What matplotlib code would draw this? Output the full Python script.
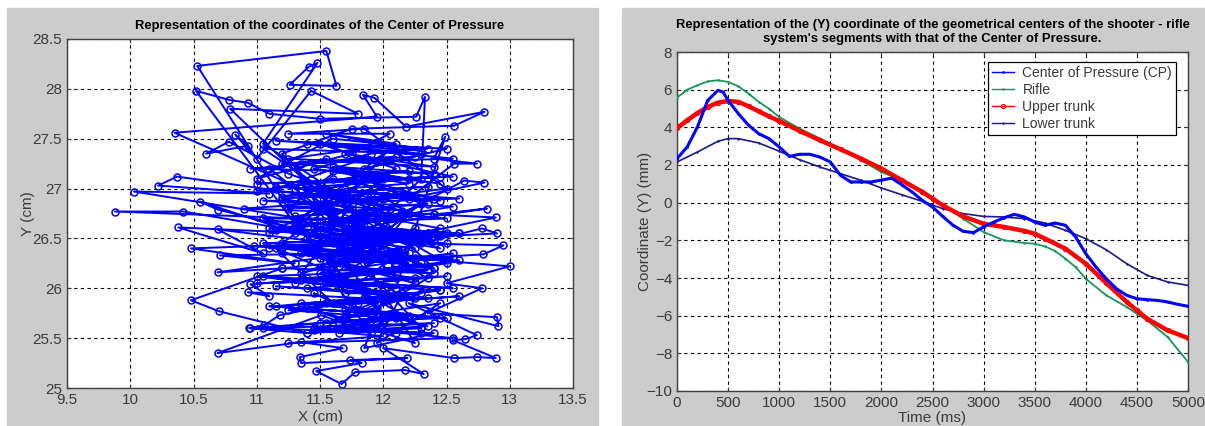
"""Center of Pressure trajectory and Y coordinate of the shooter - rifle segments."""

import matplotlib

matplotlib.use("Agg")

import matplotlib.pyplot as plt
from matplotlib.patches import Rectangle

plt.rcParams["font.family"] = ["Liberation Sans", "DejaVu Sans"]

# ---- left panel: CoP path (cm) ----
cop_x = [
    11.70, 11.35, 11.90, 12.20, 11.55, 11.10, 11.80, 12.35, 11.95, 11.45,
    10.53, 11.55, 11.63, 11.26, 11.41, 11.48, 11.05, 11.70, 12.05, 11.30,
    10.52, 10.78, 10.93, 11.10, 11.50, 12.26, 12.33, 12.30, 11.60, 12.15,
    10.35, 11.95, 11.84, 11.93, 12.18, 12.80, 12.56, 11.75, 11.20, 11.65,
    10.79, 11.80, 11.43, 11.00, 10.83, 10.93, 10.60, 10.78, 11.25, 11.90,
    10.37, 10.22, 11.10, 10.03, 11.35, 9.88, 10.42, 11.20, 10.55, 10.69,
    11.45, 10.38, 11.05, 10.69, 11.60, 10.48, 11.30, 10.71, 11.75, 10.69,
    11.20, 10.48, 10.70, 11.40, 10.94, 11.06, 11.18, 11.85, 10.93, 11.10,
    10.95, 11.55, 12.10, 12.49, 12.40, 12.74, 12.56, 12.20, 12.80, 12.64,
    12.00, 12.82, 12.40, 12.89, 12.10, 12.90, 12.78, 12.30, 12.95, 12.79,
    12.25, 13.00, 12.50, 12.78, 12.35, 12.90, 12.91, 12.20, 12.74, 12.65,
    12.55, 12.89, 12.74, 12.56, 12.00, 12.32, 12.17, 11.78, 11.67, 11.47,
    11.83, 11.74, 12.19, 11.35, 11.34, 11.68, 11.35, 10.69, 11.51, 11.90,
    11.62, 12.05, 11.48, 11.88, 11.20, 11.70, 12.15, 11.55, 11.95, 11.35,
    12.25, 11.80, 11.45, 12.00, 11.65, 12.30, 11.90, 11.30, 11.75, 12.10,
    11.50, 11.85, 11.15, 11.60, 12.40, 11.95, 11.40, 12.20, 11.70, 11.05,
    11.85, 12.45, 11.55, 12.00, 11.25, 11.65, 12.30, 11.90, 11.35, 11.75,
    12.05, 11.50, 12.35, 11.80, 11.15, 11.60, 12.15, 11.95, 12.45, 11.70,
    12.10, 11.40, 12.25, 11.85, 12.55, 11.50, 12.00, 11.30, 11.70, 12.20,
    11.45, 11.90, 12.35, 11.60, 11.00, 11.75, 12.05, 11.25, 11.85, 12.50,
    11.55, 11.10, 11.95, 12.40, 11.65, 12.60, 11.35, 11.80, 12.15, 11.50,
    12.05, 11.40, 11.75, 12.25, 11.60, 12.45, 11.20, 11.90, 12.10, 11.70,
    12.30, 11.55, 12.00, 11.85, 12.40, 11.45, 12.20, 11.65, 12.50, 11.75,
    11.05, 12.30, 11.40, 12.55, 11.20, 12.10, 10.95, 12.40, 11.60, 12.20,
    11.00, 12.45, 11.30, 12.05, 11.15, 12.60, 11.50, 12.25, 10.90, 11.95,
    11.25, 12.50, 11.45, 12.15, 11.10, 12.35, 11.70, 12.00, 11.05, 12.45,
    11.35, 12.20, 10.98, 12.55, 11.55, 12.10, 11.20, 12.40, 11.65, 12.25,
    11.00, 12.50, 11.40, 12.05, 11.15, 12.35, 11.80, 12.60, 11.30, 11.95,
    11.10, 12.45, 11.50, 12.20, 10.95, 12.30, 11.60, 12.55, 11.25, 12.00,
    11.45, 12.40, 11.05, 12.15, 11.70, 12.50, 11.35, 12.25, 11.15, 12.45,
    11.55, 12.05, 11.00, 12.35, 11.40, 12.60, 11.20, 12.10, 11.65, 12.30,
    11.10, 12.50, 11.45, 12.20, 11.30, 12.40, 11.75, 12.55, 11.05, 12.15,
    11.50, 12.35, 11.20, 12.00, 11.60, 12.45, 11.35, 12.25, 11.85, 12.50,
    11.15, 12.30, 11.55, 12.10, 11.25, 12.40, 11.70, 12.55, 11.40, 12.20,
    11.00, 12.45, 11.50, 12.05, 11.30, 12.35, 11.80, 12.60, 11.10, 12.25,
    11.45, 12.15, 11.65, 12.50, 11.20, 12.40, 11.90, 12.30, 11.35, 12.55,
    11.05, 12.20, 11.55, 12.45, 11.25, 12.10, 11.75, 12.35, 11.40, 12.00,
    11.60, 12.50, 11.15, 12.25, 11.85, 12.40, 11.30, 12.15, 11.70, 12.05,
]
cop_y = [
    26.60, 27.05, 26.30, 26.75, 27.30, 27.20, 26.50, 26.10, 25.80, 26.40,
    28.23, 28.38, 28.03, 28.04, 28.22, 28.26, 27.45, 26.90, 27.40, 26.65,
    27.98, 27.89, 27.86, 27.75, 27.70, 27.72, 27.92, 27.10, 26.20, 26.55,
    27.56, 27.72, 27.94, 27.91, 27.62, 27.77, 27.63, 27.60, 27.35, 26.75,
    27.80, 27.75, 27.98, 27.30, 27.54, 27.43, 27.35, 27.47, 27.15, 26.85,
    27.12, 27.03, 26.95, 26.97, 26.70, 26.77, 26.77, 26.60, 26.87, 26.79,
    26.55, 26.61, 26.35, 26.59, 26.45, 26.40, 26.25, 26.33, 26.35, 26.16,
    26.20, 25.88, 25.77, 25.55, 25.60, 25.63, 25.73, 25.90, 25.96, 25.92,
    26.04, 26.10, 26.00, 27.52, 27.30, 27.25, 27.25, 26.90, 27.06, 27.08,
    26.65, 26.80, 26.74, 26.71, 26.50, 26.55, 26.60, 26.45, 26.43, 26.34,
    26.30, 26.22, 26.05, 26.00, 25.75, 25.71, 25.62, 25.85, 25.53, 25.49,
    25.48, 25.30, 25.31, 25.30, 25.40, 25.14, 25.18, 25.16, 25.04, 25.17,
    25.25, 25.28, 25.30, 25.25, 25.31, 25.40, 25.46, 25.35, 25.73, 25.55,
    26.05, 26.35, 26.80, 27.10, 26.45, 26.25, 26.70, 26.95, 26.60, 26.35,
    26.05, 25.75, 25.95, 25.65, 25.55, 25.60, 26.15, 26.05, 26.85, 27.20,
    27.45, 27.30, 27.00, 27.10, 26.90, 27.05, 26.50, 26.25, 26.40, 26.70,
    26.70, 26.40, 26.60, 26.90, 26.80, 27.20, 26.85, 26.45, 26.90, 26.65,
    26.15, 26.30, 26.55, 26.05, 26.40, 25.85, 25.95, 25.45, 25.85, 25.70,
    25.55, 25.80, 25.45, 26.25, 26.35, 26.15, 26.50, 26.60, 27.00, 27.05,
    27.20, 27.35, 27.40, 27.50, 27.10, 27.35, 27.55, 27.55, 27.60, 27.00,
    26.85, 26.55, 26.75, 26.20, 26.50, 26.55, 26.15, 26.35, 26.35, 26.65,
    26.80, 27.00, 26.20, 26.60, 26.35, 26.60, 26.90, 26.95, 26.10, 25.95,
    25.95, 25.65, 25.90, 25.40, 25.55, 25.60, 25.70, 26.10, 26.25, 26.80,
    27.40, 27.35, 27.45, 27.30, 27.25, 27.32, 27.20, 27.15, 27.22, 27.10,
    27.05, 27.12, 27.00, 26.95, 27.02, 26.90, 26.85, 26.92, 26.80, 26.75,
    26.82, 26.70, 26.65, 26.72, 26.60, 26.55, 26.62, 26.50, 26.45, 26.52,
    26.40, 26.35, 26.42, 26.30, 26.25, 26.32, 26.20, 26.15, 26.22, 26.10,
    26.05, 26.12, 26.00, 25.95, 26.02, 25.90, 25.85, 25.92, 25.80, 25.75,
    25.82, 25.70, 25.65, 25.72, 25.60, 25.55, 25.62, 25.50, 25.45, 25.52,
    25.58, 25.65, 25.60, 25.72, 25.78, 25.70, 25.85, 25.90, 25.82, 25.98,
    26.05, 25.96, 26.12, 26.18, 26.10, 26.28, 26.35, 26.25, 26.42, 26.48,
    26.40, 26.55, 26.60, 26.52, 26.68, 26.75, 26.65, 26.82, 26.88, 26.78,
    26.95, 27.02, 26.92, 27.10, 27.18, 27.05, 27.25, 27.32, 27.20, 27.40,
    27.48, 27.38, 27.55, 27.45, 27.30, 27.22, 27.35, 27.12, 27.05, 27.18,
    26.98, 26.88, 27.00, 26.80, 26.72, 26.85, 26.62, 26.55, 26.68, 26.48,
    26.42, 26.52, 26.35, 26.28, 26.40, 26.20, 26.15, 26.25, 26.08, 26.00,
    26.12, 25.92, 25.85, 25.98, 25.78, 25.70, 25.82, 25.62, 25.55, 25.68,
    26.50, 26.45, 26.58, 26.40, 26.62, 26.48, 26.55, 26.38, 26.70, 26.52,
]

# ---- right panel: Y coordinate (mm) vs time (ms) ----
cp_t = [0, 100, 200, 300, 400, 450, 500, 600, 700, 800, 900, 1000, 1100, 1200,
        1300, 1400, 1500, 1600, 1700, 1800, 1900, 2000, 2100, 2200, 2300, 2400,
        2500, 2600, 2700, 2800, 2900, 3000, 3100, 3200, 3300, 3400, 3500, 3600,
        3700, 3800, 3900, 4000, 4100, 4200, 4300, 4400, 4500, 4600, 4700, 4800,
        4900, 5000]
cp_y = [2.34, 2.96, 4.02, 5.43, 5.96, 5.88, 5.43, 4.73, 4.11, 3.66, 3.40, 2.96,
        2.46, 2.57, 2.57, 2.42, 2.16, 1.45, 1.10, 1.10, 1.10, 1.20, 1.30, 0.95,
        0.57, 0.12, -0.23, -0.73, -1.20, -1.52, -1.59, -1.29, -1.03, -0.80,
        -0.62, -0.76, -1.03, -1.20, -1.08, -1.20, -1.82, -2.71, -3.42, -4.04,
        -4.57, -4.92, -5.10, -5.15, -5.19, -5.27, -5.40, -5.50]

rifle_t = [0, 100, 200, 300, 400, 500, 600, 700, 800, 900, 1000, 1200, 1400,
           1500, 1600, 1800, 2000, 2200, 2400, 2500, 2600, 2800, 3000, 3200,
           3400, 3500, 3600, 3700, 3800, 3900, 4000, 4200, 4400, 4500, 4600,
           4800, 5000]
rifle_y = [5.58, 6.00, 6.23, 6.44, 6.50, 6.41, 6.18, 5.79, 5.35, 4.99, 4.55,
           3.93, 3.40, 3.13, 2.83, 2.25, 1.63, 1.19, 0.65, 0.30, -0.14, -0.85,
           -1.56, -2.00, -2.14, -2.18, -2.32, -2.57, -2.97, -3.42, -4.04,
           -4.92, -5.54, -5.90, -6.25, -7.13, -8.46]

upper_t = [0, 100, 200, 300, 400, 500, 600, 700, 800, 900, 1000, 1200, 1400,
           1600, 1800, 2000, 2200, 2400, 2500, 2600, 2800, 3000, 3200, 3400,
           3500, 3600, 3800, 4000, 4200, 4400, 4500, 4600, 4800, 5000]
upper_y = [3.96, 4.37, 4.76, 5.08, 5.31, 5.40, 5.35, 5.12, 4.85, 4.58, 4.34,
           3.81, 3.31, 2.83, 2.34, 1.81, 1.19, 0.57, 0.21, -0.14, -0.73, -1.12,
           -1.29, -1.50, -1.65, -1.91, -2.44, -3.24, -4.27, -5.27, -5.72,
           -6.16, -6.78, -7.19]

lower_t = [0, 200, 400, 500, 600, 800, 1000, 1200, 1400, 1600, 1800, 2000,
           2200, 2400, 2600, 2800, 3000, 3200, 3400, 3600, 3800, 4000, 4200,
           4400, 4600, 4800, 5000]
lower_y = [2.16, 2.69, 3.26, 3.40, 3.40, 3.17, 2.73, 2.28, 1.89, 1.54, 1.19,
           0.78, 0.42, 0.07, -0.32, -0.58, -0.73, -0.76, -0.85, -1.08, -1.47,
           -1.91, -2.50, -3.24, -3.86, -4.21, -4.39]

GRAY = "#cccccc"
TICK_COLOR = "#3a3a3a"


def style_axes(ax):
    ax.grid(True, color="black", linestyle=(0, (3, 3)), linewidth=0.8)
    ax.set_axisbelow(True)
    for spine in ax.spines.values():
        spine.set_color("#404040")
        spine.set_linewidth(1.0)
    ax.tick_params(direction="in", length=3, labelsize=11, colors=TICK_COLOR,
                   top=True, right=True)


def main():
    fig = plt.figure(figsize=(12.05, 4.26), dpi=100, facecolor="white")
    fig.patches.append(Rectangle((7 / 1205, 0), 591 / 1205, 418 / 426,
                                 transform=fig.transFigure, color=GRAY, zorder=-5))
    fig.patches.append(Rectangle((622 / 1205, 0), 583 / 1205, 418 / 426,
                                 transform=fig.transFigure, color=GRAY, zorder=-5))

    # left panel
    ax1 = fig.add_axes([67 / 1205, 38 / 426, 506 / 1205, 349 / 426])
    ax1.plot(cop_x, cop_y, color="#0000ff", linewidth=1.4, marker="o",
             markersize=5, markerfacecolor="none", markeredgewidth=1.1)
    ax1.set_xlim(9.5, 13.5)
    ax1.set_ylim(25, 28.5)
    ax1.set_xticks([9.5, 10, 10.5, 11, 11.5, 12, 12.5, 13, 13.5])
    ax1.set_xticklabels(["9.5", "10", "10.5", "11", "11.5", "12", "12.5", "13", "13.5"])
    ax1.set_yticks([25, 25.5, 26, 26.5, 27, 27.5, 28, 28.5])
    ax1.set_yticklabels(["25", "25.5", "26", "26.5", "27", "27.5", "28", "28.5"])
    style_axes(ax1)
    ax1.set_title("Representation of the coordinates of the Center of Pressure",
                  fontsize=9.4, fontweight="bold", pad=7)
    ax1.set_xlabel("X (cm)", fontsize=11, color=TICK_COLOR, labelpad=2)
    ax1.set_ylabel("Y (cm)", fontsize=11, color=TICK_COLOR, labelpad=-2)

    # right panel
    ax2 = fig.add_axes([677 / 1205, 35 / 426, 511 / 1205, 339 / 426])
    ax2.plot(cp_t, cp_y, color="#0000ff", linewidth=2.2, marker=".",
             markersize=2, label="Center of Pressure (CP)", zorder=5)
    ax2.plot(rifle_t, rifle_y, color="#16975a", linewidth=1.3, marker=".",
             markersize=1.5, label="Rifle", zorder=3)
    ax2.plot(upper_t, upper_y, color="#ff0000", linewidth=3.2, marker="o",
             markersize=3, markerfacecolor="none", markeredgewidth=0.8,
             label="Upper trunk", zorder=4)
    ax2.plot(lower_t, lower_y, color="#1a1a8a", linewidth=1.2, marker="+",
             markersize=2, label="Lower trunk", zorder=2)
    ax2.set_xlim(0, 5000)
    ax2.set_ylim(-10, 8)
    ax2.set_xticks(range(0, 5001, 500))
    ax2.set_yticks(range(-10, 9, 2))
    style_axes(ax2)
    ax2.set_title("Representation of the (Y) coordinate of the geometrical centers of the shooter - rifle\n"
                  "system's segments with that of the Center of Pressure.",
                  fontsize=9.4, fontweight="bold", pad=7, linespacing=1.2)
    ax2.set_xlabel("Time (ms)", fontsize=11, color=TICK_COLOR, labelpad=1)
    ax2.set_ylabel("Coordinate (Y) (mm)", fontsize=11, color=TICK_COLOR, labelpad=-4)
    leg = ax2.legend(loc="upper right", bbox_to_anchor=(0.977, 0.97), fontsize=10,
                     fancybox=False, framealpha=1, edgecolor="black",
                     borderpad=0.3, labelspacing=0.2, handlelength=1.6,
                     handletextpad=0.6, borderaxespad=0)
    leg.get_frame().set_linewidth(0.9)
    for line in leg.get_lines():
        line.set_linewidth(1.0)
    for text in leg.get_texts():
        text.set_color(TICK_COLOR)

    fig.savefig("out.png", dpi=100, facecolor="white")


if __name__ == "__main__":
    main()
